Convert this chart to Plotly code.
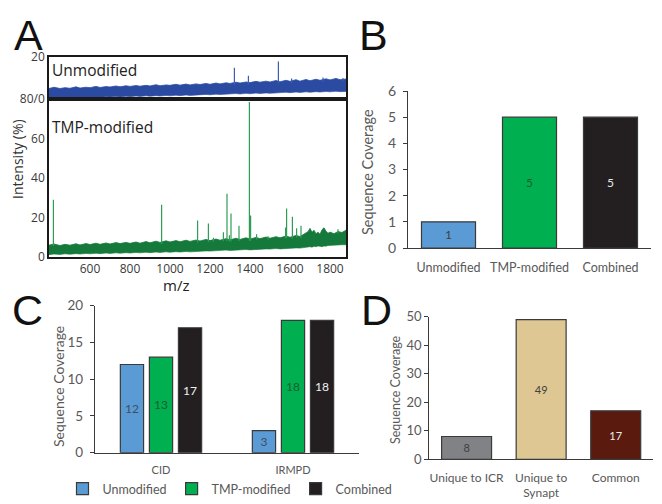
import numpy as np
import plotly.graph_objects as go

# The page body has an 8px margin, so the figure is drawn 8px in from the window edges.
OFF = 8
FW, FH = 662 - OFF, 504 - OFF


def fx(p):
    return (p - OFF) / FW


def fy(p):
    return 1 - (p - OFF) / FH


# ---------------- Panel A data ----------------
unmod_band_mz = [395, 420, 450, 475, 500, 530, 550, 580, 600, 630, 650, 680, 700, 730, 750, 780, 800, 830,
                 850, 880, 900, 930, 950, 980, 1000, 1030, 1050, 1080, 1100, 1130, 1150, 1180, 1200, 1230,
                 1250, 1280, 1300, 1330, 1350, 1380, 1400, 1430, 1450, 1480, 1500, 1530, 1550, 1580, 1600,
                 1630, 1650, 1680, 1700, 1730, 1750, 1780, 1800, 1830, 1850, 1880]
unmod_band_upper = [5.0, 5.6, 5.0, 5.4, 5.1, 5.8, 5.2, 5.6, 5.4, 6.0, 5.5, 5.9, 5.7, 6.2, 5.8, 6.3, 6.0, 6.4,
                    6.1, 6.5, 6.2, 6.8, 6.3, 6.7, 6.5, 7.0, 6.6, 7.1, 6.7, 7.2, 6.9, 7.4, 7.0, 7.6,
                    7.2, 7.7, 7.4, 8.0, 7.6, 8.1, 7.8, 8.4, 8.0, 8.5, 8.1, 8.8, 8.2, 8.9, 8.4,
                    9.2, 8.5, 9.3, 8.7, 9.4, 8.9, 9.6, 9.1, 9.8, 9.2, 9.5]
unmod_band_lower = [0.3, 0.6, 0.4, 0.7, 0.5, 0.8, 0.6, 0.9, 0.7, 1.0, 0.8, 1.1, 0.9, 1.2, 1.0, 1.3, 1.1, 1.4,
                    1.2, 1.5, 1.3, 1.6, 1.4, 1.7, 1.5, 1.8, 1.6, 1.9, 1.7, 2.0, 1.9, 2.2, 2.0, 2.3,
                    2.1, 2.4, 2.3, 2.6, 2.4, 2.7, 2.5, 2.8, 2.6, 2.9, 2.7, 3.0, 2.9, 3.2, 3.0,
                    3.3, 3.1, 3.4, 3.2, 3.5, 3.3, 3.6, 3.4, 3.7, 3.5, 3.6]
unmod_peak_mz = [1322, 1392, 1542, 1608, 1765, 1865]
unmod_peak_int = [14.9, 11.1, 17.8, 9.8, 10.2, 10.0]

tmp_band_mz = [395, 420, 450, 475, 500, 530, 550, 580, 600, 630, 650, 680, 700, 730, 750, 780, 800, 830,
               850, 880, 900, 930, 950, 980, 1000, 1030, 1050, 1080, 1100, 1130, 1150, 1180, 1200, 1230,
               1250, 1280, 1300, 1330, 1350, 1380, 1400, 1430, 1450, 1480, 1500, 1530, 1550, 1580, 1600,
               1630, 1650, 1670, 1690, 1700, 1710, 1720, 1730, 1740, 1750, 1760, 1770, 1780, 1790, 1800,
               1820, 1840, 1860, 1880]
tmp_band_upper = [6.0, 6.6, 5.8, 6.4, 6.0, 6.7, 6.1, 6.8, 6.3, 7.0, 6.4, 7.1, 6.6, 7.3, 6.8, 7.4, 6.9, 7.6,
                  7.0, 7.8, 7.2, 8.0, 7.4, 8.2, 7.6, 8.3, 7.7, 8.5, 7.9, 8.6, 8.1, 8.9, 8.3, 9.1,
                  8.5, 9.3, 8.7, 9.5, 8.9, 9.7, 9.1, 9.9, 9.3, 10.1, 9.5, 10.3, 9.7, 10.6, 10.0,
                  10.9, 10.4, 11.5, 12.8, 14.5, 12.5, 13.5, 11.8, 12.5, 11.5, 13.8, 14.8, 13.0, 12.0, 12.6,
                  11.8, 12.9, 12.4, 13.6]
tmp_band_lower = [1.2, 1.5, 1.3, 1.6, 1.4, 1.7, 1.5, 1.8, 1.6, 1.9, 1.7, 2.0, 1.8, 2.1, 1.9, 2.2, 2.0, 2.3,
                  2.1, 2.4, 2.2, 2.5, 2.3, 2.6, 2.4, 2.7, 2.5, 2.8, 2.6, 2.9, 2.8, 3.1, 3.0, 3.3,
                  3.2, 3.5, 3.3, 3.6, 3.5, 3.8, 3.6, 3.9, 3.8, 4.1, 4.0, 4.3, 4.1, 4.4, 4.3,
                  4.6, 4.5, 4.8, 5.0, 5.2, 5.0, 5.4, 5.2, 5.6, 5.4, 5.2, 5.6, 5.5, 5.8, 5.8,
                  6.0, 6.1, 6.2, 6.2]
tmp_peak_mz = [417, 958, 1138, 1192, 1217, 1267, 1285, 1297, 1305, 1345, 1397, 1403, 1433, 1490,
               1578, 1583, 1612, 1633, 1655, 1840]
tmp_peak_int = [29.0, 26.5, 18.5, 17.0, 9.8, 12.5, 32.0, 11.0, 22.0, 15.8, 78.5, 21.0, 11.5, 10.5,
                15.0, 24.6, 20.4, 14.5, 15.8, 14.0]

mz_ticks = [600, 800, 1000, 1200, 1400, 1600, 1800]

# ---------------- Panel B data ----------------
b_cats = ["Unmodified", "TMP-modified", "Combined"]
b_vals = [1, 5, 5]

# ---------------- Panel C data ----------------
c_cats = ["CID", "IRMPD"]
c_unmod = [12, 3]
c_tmp = [13, 18]
c_comb = [17, 18]

# ---------------- Panel D data ----------------
d_cats = ["Unique to ICR", "Unique to<br>Synapt", "Common"]
d_vals = [8, 49, 17]

BLUE_BAND = "#2b4ba3"
BLUE_PEAK = "#3a5cbc"
GREEN_BAND = "#14793a"
GREEN_PEAK = "#2f9d55"
C_UNMOD = "#5b9bd5"
C_TMP = "#00b050"
C_COMB = "#231f20"
OUTLINE = "#3a3a3a"
GRAY_TXT = "#595959"


def stems(mz, inten, band_mz, band_up):
    base = np.interp(mz, band_mz, band_up)
    xs, ys = [], []
    for m, b, v in zip(mz, base, inten):
        xs += [m, m, None]
        ys += [b - 1, v, None]
    return xs, ys


fig = go.Figure()

# Top spectrum (Unmodified)
fig.add_trace(go.Scatter(x=unmod_band_mz, y=unmod_band_lower, xaxis="x", yaxis="y", mode="lines",
                         line=dict(width=0.6, color=BLUE_BAND), showlegend=False, hoverinfo="skip"))
fig.add_trace(go.Scatter(x=unmod_band_mz, y=unmod_band_upper, xaxis="x", yaxis="y", mode="lines",
                         fill="tonexty", fillcolor=BLUE_BAND, line=dict(width=0.8, color=BLUE_BAND),
                         showlegend=False))
sx, sy = stems(unmod_peak_mz, unmod_peak_int, unmod_band_mz, unmod_band_upper)
fig.add_trace(go.Scatter(x=sx, y=sy, xaxis="x", yaxis="y", mode="lines",
                         line=dict(width=1.2, color=BLUE_PEAK), showlegend=False))

# Bottom spectrum (TMP-modified)
fig.add_trace(go.Scatter(x=tmp_band_mz, y=tmp_band_lower, xaxis="x2", yaxis="y2", mode="lines",
                         line=dict(width=0.6, color=GREEN_BAND), showlegend=False, hoverinfo="skip"))
fig.add_trace(go.Scatter(x=tmp_band_mz, y=tmp_band_upper, xaxis="x2", yaxis="y2", mode="lines",
                         fill="tonexty", fillcolor=GREEN_BAND, line=dict(width=0.8, color=GREEN_BAND),
                         showlegend=False))
sx, sy = stems(tmp_peak_mz, tmp_peak_int, tmp_band_mz, tmp_band_upper)
fig.add_trace(go.Scatter(x=sx, y=sy, xaxis="x2", yaxis="y2", mode="lines",
                         line=dict(width=1.2, color=GREEN_PEAK), showlegend=False))

# Panel B bars
fig.add_trace(go.Bar(x=b_cats, y=b_vals, xaxis="x3", yaxis="y3", width=[0.667] * 3,
                     marker=dict(color=[C_UNMOD, C_TMP, C_COMB], line=dict(color=OUTLINE, width=1.2)),
                     text=[str(v) for v in b_vals], textposition="inside", insidetextanchor="middle",
                     textangle=0, constraintext="none",
                     textfont=dict(size=12, color=["#404040", "#1d5c31", "#e6e6e6"]),
                     showlegend=False))

# Panel C grouped bars
for name, vals, col, tcol in [("Unmodified", c_unmod, C_UNMOD, "#3d4f63"),
                              ("TMP-modified", c_tmp, C_TMP, "#1d5c31"),
                              ("Combined", c_comb, C_COMB, "#f0f0f0")]:
    fig.add_trace(go.Bar(name=name, x=c_cats, y=vals, xaxis="x4", yaxis="y4",
                         marker=dict(color=col, line=dict(color=OUTLINE, width=1.2)),
                         text=[str(v) for v in vals], textposition="inside", insidetextanchor="middle",
                         textangle=0, constraintext="none",
                         textfont=dict(size=12, color=tcol), showlegend=True))

# Panel D bars
fig.add_trace(go.Bar(x=d_cats, y=d_vals, xaxis="x5", yaxis="y5", width=[0.67] * 3,
                     marker=dict(color=["#808285", "#dfc794", "#5a1b0e"], line=dict(color=OUTLINE, width=1.2)),
                     text=[str(v) for v in d_vals], textposition="inside", insidetextanchor="middle",
                     textangle=0, constraintext="none",
                     textfont=dict(size=11, color=["#404040", "#404040", "#eeeeee"]),
                     showlegend=False))

A_X = [fx(49), fx(346)]
spec_font = dict(family="Open Sans", size=12, color="#3a3a3a")
axis_common = dict(showgrid=False, zeroline=False, automargin=False)

fig.update_layout(
    width=FW, height=FH,
    margin=dict(l=0, r=0, t=0, b=0, pad=0, autoexpand=False),
    paper_bgcolor="white", plot_bgcolor="white",
    font=dict(family="Lato", color=GRAY_TXT, size=12),
    barmode="group", bargap=0.34, bargroupgap=0.2,
    xaxis=dict(domain=A_X, anchor="y", range=[395, 1880], showticklabels=False, showline=True,
               mirror=True, linecolor="#1a1a1a", linewidth=1.5, ticks="", **axis_common),
    yaxis=dict(domain=[fy(99), fy(57)], anchor="x", range=[0, 20], tickvals=[20], showline=True,
               mirror=True, linecolor="#1a1a1a", linewidth=1.5, ticks="", tickfont=spec_font,
               **axis_common),
    xaxis2=dict(domain=A_X, anchor="y2", range=[395, 1880], tickvals=mz_ticks, showline=True,
                mirror=True, linecolor="#1a1a1a", linewidth=1.5, ticks="", tickfont=spec_font,
                **axis_common),
    yaxis2=dict(domain=[fy(257), fy(99)], anchor="x2", range=[0, 80], tickvals=[0, 20, 40, 60, 80],
                ticktext=["0", "20", "40", "60", "80/0"], showline=True, mirror=True,
                linecolor="#1a1a1a", linewidth=1.5, ticks="", tickfont=spec_font, **axis_common),
    xaxis3=dict(domain=[fx(408), fx(651)], anchor="y3", range=[-0.5, 2.5], showline=True,
                linecolor="#3a3a3a", linewidth=1.3, ticks="", ticklabelstandoff=8,
                tickfont=dict(size=12.5), **axis_common),
    yaxis3=dict(domain=[fy(248), fy(91)], anchor="x3", range=[0, 6], dtick=1, showline=True,
                linecolor="#3a3a3a", linewidth=1.3, ticks="outside", ticklen=4, tickcolor="#3a3a3a",
                ticklabelstandoff=4, tickfont=dict(size=14), **axis_common),
    xaxis4=dict(domain=[fx(95), fx(359)], anchor="y4", range=[-0.5, 1.5], showline=True,
                linecolor="#3a3a3a", linewidth=1.3, ticks="", ticklabelstandoff=7,
                tickfont=dict(size=11), **axis_common),
    yaxis4=dict(domain=[fy(452.7), fy(305.7)], anchor="x4", range=[0, 20], dtick=5, showline=True,
                linecolor="#3a3a3a", linewidth=1.3, ticks="outside", ticklen=4, tickcolor="#3a3a3a",
                ticklabelstandoff=4, tickfont=dict(size=13.5), **axis_common),
    xaxis5=dict(domain=[fx(429.3), fx(653)], anchor="y5", range=[-0.5, 2.5], showline=True,
                linecolor="#3a3a3a", linewidth=1.3, ticks="", ticklabelstandoff=7,
                tickfont=dict(size=12), **axis_common),
    yaxis5=dict(domain=[fy(459.3), fy(316.7)], anchor="x5", range=[0, 50], dtick=10, showline=True,
                linecolor="#3a3a3a", linewidth=1.3, ticks="outside", ticklen=4, tickcolor="#3a3a3a",
                tickfont=dict(size=13), **axis_common),
    legend=dict(orientation="h", x=fx(230), y=fy(489), xanchor="center", yanchor="middle",
                font=dict(size=12.5, color=GRAY_TXT), bgcolor="rgba(0,0,0,0)",
                itemwidth=30, traceorder="normal"),
)

ann = []
# Panel letters (box tops kept inside the figure)
for letter, x, ytop in [("A", 28, 9), ("B", 373, 9), ("C", 27, 284), ("D", 376, 284)]:
    ann.append(dict(text=letter, x=fx(x), y=fy(ytop), xref="paper", yref="paper", showarrow=False,
                    xanchor="center", yanchor="top",
                    font=dict(family="Liberation Sans", size=43, color="#111111")))
# Panel A texts
ann.append(dict(text="Unmodified", x=fx(50), y=fy(70), xref="paper", yref="paper", showarrow=False,
                xanchor="left", yanchor="middle", font=dict(family="Open Sans", size=15.5, color="#222222")))
ann.append(dict(text="TMP-modified", x=fx(50), y=fy(127), xref="paper", yref="paper", showarrow=False,
                xanchor="left", yanchor="middle", font=dict(family="Open Sans", size=15.5, color="#222222")))
ann.append(dict(text="Intensity (%)", x=fx(17), y=fy(159), xref="paper", yref="paper", showarrow=False,
                textangle=-90, xanchor="center", yanchor="middle",
                font=dict(family="Open Sans", size=14, color="#333333")))
ann.append(dict(text="m/z", x=fx(176), y=fy(285), xref="paper", yref="paper", showarrow=False,
                xanchor="center", yanchor="middle",
                font=dict(family="Open Sans", size=15, color="#222222")))
# Bar panel y titles
for x, y, s in [(368, 172, 14.5), (58, 387, 14), (395, 390, 12.5)]:
    ann.append(dict(text="Sequence Coverage", x=fx(x), y=fy(y), xref="paper", yref="paper",
                    showarrow=False, textangle=-90, xanchor="center", yanchor="middle",
                    font=dict(size=s, color=GRAY_TXT)))
fig.update_layout(annotations=ann)

fig.write_html("out.html")
